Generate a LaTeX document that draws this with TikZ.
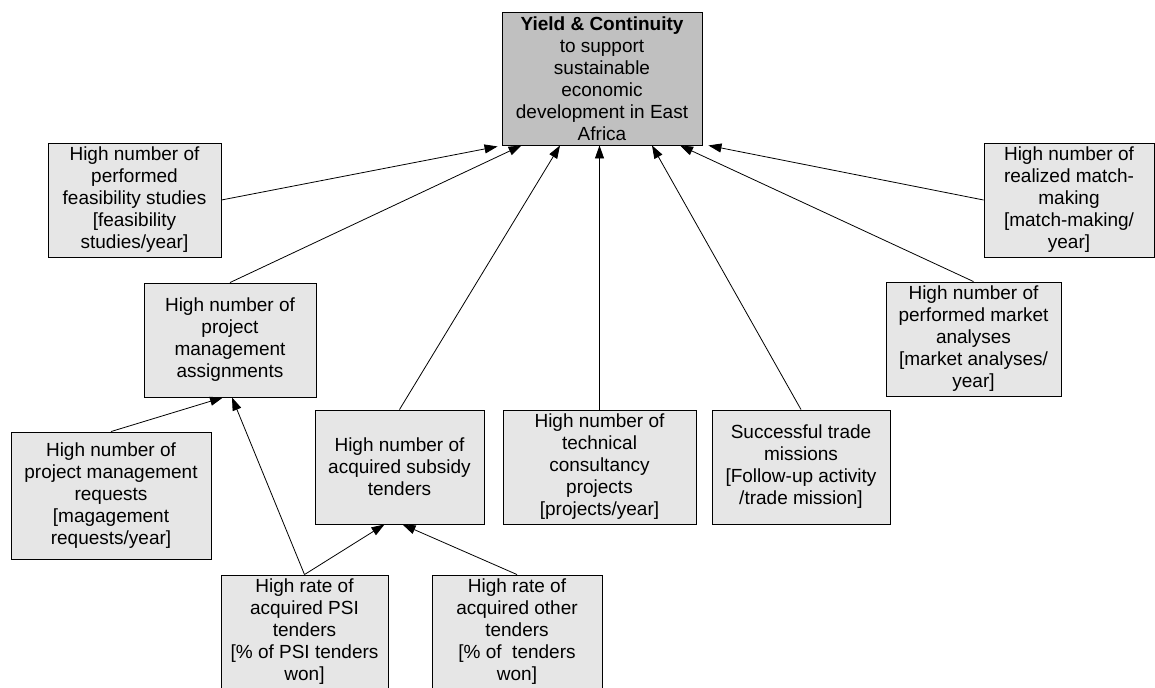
\documentclass[tikz,border=0pt]{standalone}
\usepackage{fontspec}
\setmainfont{Liberation Sans}
\usetikzlibrary{arrows.meta}
\definecolor{boxfill}{RGB}{230,230,230}
\definecolor{goalfill}{RGB}{192,192,192}
\tikzset{
  box/.style={draw=black, line width=0.9bp, fill=boxfill, align=center,
    inner sep=0pt, font=\fontsize{19bp}{22bp}\selectfont},
  goalbox/.style={box, fill=goalfill},
  link/.style={draw=black, line width=0.8bp, -{Triangle[length=13bp,width=9bp]}}
}
\begin{document}
\begin{tikzpicture}[x=1bp,y=-1bp]
\useasboundingbox (0,0) rectangle (1155,688);

% goal
\node[goalbox, minimum width=200bp, minimum height=133bp] (goal) at (602,78.5)
  {\textbf{Yield \& Continuity}\\to support\\sustainable\\economic\\development in East\\Africa};

% first level
\node[box, minimum width=173bp, minimum height=114bp] (feas) at (134.5,200)
  {High number of\\performed\\feasibility studies\\{[}feasibility\\studies/year]};
\node[box, minimum width=170bp, minimum height=114bp] (match) at (1069,200)
  {High number of\\realized match-\\making\\{[}match-making/\\year]};
\node[box, minimum width=172bp, minimum height=114bp] (pm) at (230,340)
  {High number of\\project\\management\\assignments};
\node[box, minimum width=175bp, minimum height=114bp] (market) at (973.5,339)
  {High number of\\performed market\\analyses\\{[}market analyses/\\year]};
\node[box, minimum width=169bp, minimum height=114bp] (sub) at (399.5,467)
  {High number of\\acquired subsidy\\tenders};
\node[box, minimum width=193bp, minimum height=114bp] (tech) at (599.5,467)
  {High number of\\technical\\consultancy\\projects\\{[}projects/year]};
\node[box, minimum width=178bp, minimum height=114bp] (trade) at (801,467)
  {Successful trade\\missions\\{[}Follow-up activity\\/trade mission]};

% lower level
\node[box, minimum width=200bp, minimum height=127bp] (req) at (111,495.5)
  {High number of\\project management\\requests\\{[}magagement\\requests/year]};
\node[box, minimum width=167bp, minimum height=114bp] (psi) at (304.5,632)
  {High rate of\\acquired PSI\\tenders\\{[}\% of PSI tenders\\won]};
\node[box, minimum width=170bp, minimum height=114bp] (other) at (517,632)
  {High rate of\\acquired other\\tenders\\{[}\% of\ \ tenders\\won]};

% links into the goal
\draw[link] (feas.east) -- ([xshift=-4bp,yshift=-1bp]goal.south west);
\draw[link] (pm.north) -- ([xshift=20bp]goal.south west);
\draw[link] (sub.north) -- ([xshift=-42bp]goal.south);
\draw[link] (tech.north) -- (tech.north |- goal.south);
\draw[link] (trade.north) -- ([xshift=50bp]goal.south);
\draw[link] (market.north) -- ([xshift=78bp]goal.south);
\draw[link] (match.west) -- ([xshift=6bp]goal.south east);

% links into the second level
\draw[link] (req.north) -- ([xshift=-7bp]pm.south);
\draw[link] (psi.north) -- ([xshift=2bp]pm.south);
\draw[link] (psi.north) -- ([xshift=-15bp]sub.south);
\draw[link] (other.north) -- ([xshift=3bp]sub.south);
\end{tikzpicture}
\end{document}
